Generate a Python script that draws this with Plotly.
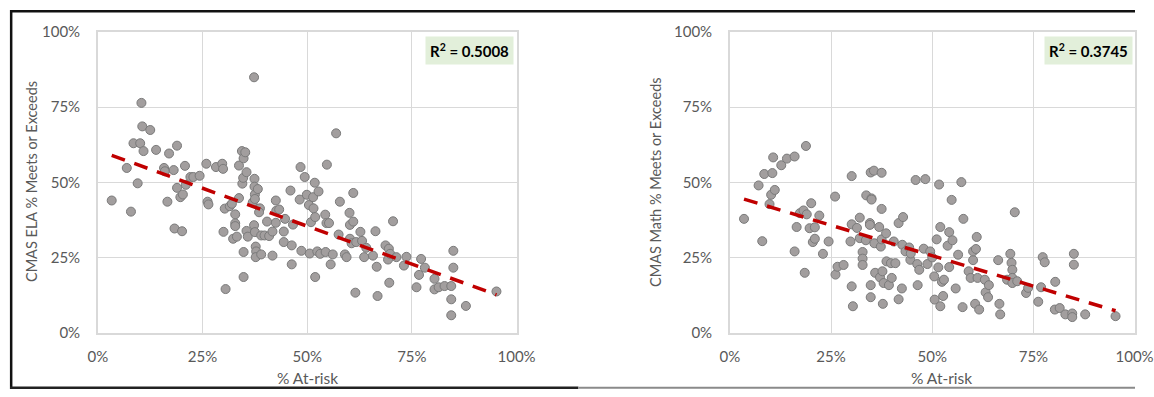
import numpy as np
import plotly.graph_objects as go

# School-level results: share of at-risk students vs. share meeting/exceeding
ela_x = [0.033, 0.069, 0.079, 0.085, 0.095, 0.101, 0.104, 0.106, 0.109, 0.125,
         0.139, 0.158, 0.160, 0.166, 0.170, 0.181, 0.183, 0.189, 0.189, 0.197,
         0.201, 0.203, 0.208, 0.210, 0.221, 0.228, 0.243, 0.259, 0.262, 0.264,
         0.282, 0.297, 0.299, 0.300, 0.303, 0.305, 0.315, 0.320, 0.323, 0.328,
         0.328, 0.328, 0.332, 0.337, 0.337, 0.344, 0.345, 0.347, 0.348, 0.348,
         0.348, 0.352, 0.355, 0.355, 0.358, 0.370, 0.373, 0.373, 0.374, 0.374,
         0.375, 0.375, 0.375, 0.377, 0.378, 0.377, 0.382, 0.387, 0.385, 0.390,
         0.390, 0.398, 0.404, 0.409, 0.417, 0.417, 0.425, 0.426, 0.425, 0.433,
         0.444, 0.444, 0.447, 0.460, 0.463, 0.463, 0.466, 0.482, 0.484, 0.486,
         0.494, 0.499, 0.504, 0.506, 0.509, 0.514, 0.515, 0.518, 0.519, 0.519,
         0.524, 0.527, 0.531, 0.543, 0.544, 0.547, 0.546, 0.552, 0.556, 0.561,
         0.569, 0.575, 0.578, 0.590, 0.594, 0.601, 0.602, 0.602, 0.606, 0.610,
         0.610, 0.615, 0.617, 0.627, 0.631, 0.636, 0.641, 0.657, 0.663, 0.666,
         0.668, 0.687, 0.693, 0.695, 0.696, 0.698, 0.705, 0.713, 0.731, 0.737,
         0.761, 0.767, 0.772, 0.781, 0.804, 0.804, 0.814, 0.828, 0.844, 0.844,
         0.844, 0.849, 0.849, 0.879, 0.952]
ela_y = [0.440, 0.548, 0.403, 0.630, 0.497, 0.630, 0.764, 0.686, 0.604, 0.674,
         0.608, 0.548, 0.537, 0.436, 0.596, 0.541, 0.347, 0.622, 0.482, 0.451,
         0.338, 0.460, 0.555, 0.492, 0.518, 0.518, 0.522, 0.562, 0.436, 0.427,
         0.551, 0.562, 0.545, 0.336, 0.413, 0.146, 0.421, 0.429, 0.313, 0.394,
         0.364, 0.355, 0.320, 0.556, 0.448, 0.604, 0.496, 0.515, 0.580, 0.269,
         0.186, 0.600, 0.534, 0.339, 0.320, 0.434, 0.849, 0.358, 0.512, 0.486,
         0.460, 0.445, 0.335, 0.287, 0.271, 0.252, 0.478, 0.414, 0.401, 0.324,
         0.261, 0.324, 0.370, 0.322, 0.337, 0.257, 0.440, 0.406, 0.366, 0.410,
         0.337, 0.302, 0.379, 0.473, 0.291, 0.228, 0.360, 0.443, 0.551, 0.273,
         0.518, 0.459, 0.425, 0.264, 0.368, 0.451, 0.414, 0.499, 0.385, 0.186,
         0.271, 0.470, 0.263, 0.393, 0.269, 0.559, 0.365, 0.365, 0.228, 0.261,
         0.663, 0.327, 0.436, 0.261, 0.252, 0.399, 0.359, 0.313, 0.298, 0.465,
         0.370, 0.134, 0.302, 0.336, 0.306, 0.252, 0.283, 0.257, 0.338, 0.220,
         0.123, 0.291, 0.244, 0.280, 0.167, 0.263, 0.371, 0.252, 0.224, 0.253,
         0.152, 0.193, 0.246, 0.217, 0.180, 0.145, 0.152, 0.156, 0.156, 0.112,
         0.059, 0.217, 0.273, 0.090, 0.138]

math_x = [0.035, 0.071, 0.080, 0.085, 0.098, 0.102, 0.105, 0.107, 0.111, 0.127,
          0.141, 0.160, 0.160, 0.165, 0.173, 0.182, 0.185, 0.188, 0.190, 0.197,
          0.201, 0.205, 0.210, 0.210, 0.221, 0.230, 0.244, 0.260, 0.261, 0.266,
          0.281, 0.298, 0.301, 0.301, 0.301, 0.304, 0.314, 0.321, 0.321, 0.328,
          0.328, 0.328, 0.336, 0.337, 0.346, 0.346, 0.348, 0.350, 0.350, 0.348,
          0.348, 0.356, 0.357, 0.359, 0.369, 0.371, 0.373, 0.375, 0.375, 0.375,
          0.377, 0.378, 0.380, 0.386, 0.387, 0.393, 0.398, 0.400, 0.405, 0.409,
          0.417, 0.417, 0.425, 0.428, 0.426, 0.434, 0.443, 0.446, 0.447, 0.459,
          0.463, 0.464, 0.468, 0.479, 0.483, 0.488, 0.495, 0.500, 0.505, 0.506,
          0.511, 0.515, 0.517, 0.520, 0.520, 0.524, 0.527, 0.529, 0.538, 0.542,
          0.542, 0.548, 0.550, 0.558, 0.564, 0.572, 0.575, 0.577, 0.590, 0.595,
          0.601, 0.601, 0.606, 0.608, 0.610, 0.612, 0.616, 0.630, 0.632, 0.638,
          0.640, 0.663, 0.666, 0.668, 0.685, 0.693, 0.696, 0.698, 0.698, 0.698,
          0.704, 0.710, 0.732, 0.737, 0.762, 0.769, 0.773, 0.778, 0.803, 0.804,
          0.815, 0.829, 0.846, 0.846, 0.850, 0.850, 0.878, 0.953]
math_y = [0.379, 0.490, 0.305, 0.528, 0.428, 0.459, 0.531, 0.583, 0.475, 0.557,
          0.579, 0.586, 0.271, 0.352, 0.398, 0.407, 0.200, 0.621, 0.394, 0.348,
          0.431, 0.302, 0.313, 0.351, 0.390, 0.263, 0.304, 0.453, 0.194, 0.220,
          0.226, 0.304, 0.521, 0.155, 0.361, 0.089, 0.349, 0.383, 0.315, 0.269,
          0.247, 0.226, 0.308, 0.457, 0.365, 0.359, 0.533, 0.447, 0.443, 0.159,
          0.119, 0.539, 0.298, 0.200, 0.352, 0.185, 0.287, 0.532, 0.412, 0.311,
          0.205, 0.097, 0.166, 0.331, 0.238, 0.159, 0.232, 0.183, 0.304, 0.232,
          0.365, 0.112, 0.148, 0.385, 0.293, 0.271, 0.284, 0.243, 0.264, 0.508,
          0.229, 0.159, 0.210, 0.280, 0.511, 0.229, 0.271, 0.251, 0.188, 0.111,
          0.311, 0.218, 0.493, 0.352, 0.089, 0.170, 0.123, 0.177, 0.290, 0.335,
          0.219, 0.442, 0.308, 0.148, 0.260, 0.501, 0.086, 0.379, 0.205, 0.183,
          0.242, 0.271, 0.097, 0.279, 0.319, 0.183, 0.078, 0.177, 0.135, 0.119,
          0.159, 0.242, 0.097, 0.062, 0.177, 0.263, 0.233, 0.210, 0.183, 0.166,
          0.401, 0.172, 0.133, 0.150, 0.104, 0.152, 0.252, 0.235, 0.078, 0.170,
          0.083, 0.062, 0.065, 0.053, 0.263, 0.227, 0.062, 0.056]

ela_r2_label = "0.5008"
math_r2_label = "0.3745"

W, H = 1154, 397
FONT = "Lato, 'Open Sans', sans-serif"
TICK_GRAY = "#595959"
GRID = "#d9d9d9"

# Layout is written in screen pixels; the page shows the figure inset by the
# body margin and scaled slightly, so convert screen pixels to figure pixels.
BODY_MARGIN = 8
SX, SY = 0.978, 0.957


def fx(p):
    return (p / SX - BODY_MARGIN) / W


def fy(p):
    return 1 - (p / SY - BODY_MARGIN) / H


# screen-pixel geometry of the two plot areas
left_px = (96, 516)
right_px = (730, 1136)
top_px, bottom_px = 29.5, 331.5

panels = [
    dict(xa="x", ya="y", xs=ela_x, ys=ela_y, r2=ela_r2_label,
         ytitle="CMAS ELA % Meets or Exceeds", span=left_px,
         r2_right=513, ytitle_x=30, xtitle_x=306),
    dict(xa="x2", ya="y2", xs=math_x, ys=math_y, r2=math_r2_label,
         ytitle="CMAS Math % Meets or Exceeds", span=right_px,
         r2_right=1134, ytitle_x=656, xtitle_x=942),
]

fig = go.Figure()

for p in panels:
    xs_arr = np.array(p["xs"])
    ys_arr = np.array(p["ys"])
    fig.add_trace(go.Scatter(
        x=p["xs"], y=p["ys"], mode="markers", xaxis=p["xa"], yaxis=p["ya"],
        showlegend=False, hoverinfo="x+y",
        marker=dict(size=9, color="#a29e9e", line=dict(color="#7a7a7a", width=1)),
    ))
    # linear least-squares trendline over the observed x span
    slope, intercept = np.polyfit(xs_arr, ys_arr, 1)
    tx = np.array([xs_arr.min(), xs_arr.max()])
    fig.add_trace(go.Scatter(
        x=tx, y=intercept + slope * tx, mode="lines", xaxis=p["xa"], yaxis=p["ya"],
        showlegend=False, hoverinfo="skip",
        line=dict(color="#c00000", width=3.5, dash="14px,10px"),
    ))
    # R-squared badge in the upper right of the plot area
    fig.add_annotation(
        xref="paper", yref="paper", x=fx(p["r2_right"]), y=fy(34),
        xanchor="right", yanchor="top", showarrow=False,
        text=f"<b>R<sup>2</sup> = {p['r2']}</b>",
        font=dict(family=FONT, size=15, color="#000000"),
        bgcolor="#e2efda", borderpad=4,
    )
    # axis titles
    fig.add_annotation(
        xref="paper", yref="paper", x=fx(p["xtitle_x"]), y=fy(377),
        xanchor="center", yanchor="middle", showarrow=False,
        text="% At-risk", font=dict(family=FONT, size=15.5, color=TICK_GRAY),
    )
    fig.add_annotation(
        xref="paper", yref="paper", x=fx(p["ytitle_x"]), y=fy(180),
        xanchor="center", yanchor="middle", showarrow=False, textangle=-90,
        text=p["ytitle"], font=dict(family=FONT, size=14.5, color=TICK_GRAY),
    )

axis_common = dict(
    range=[0, 1], dtick=0.25, tick0=0, tickformat=".0%",
    showgrid=True, gridcolor=GRID, gridwidth=1,
    showline=True, linecolor=GRID, linewidth=1.5, mirror=True,
    zeroline=False, ticks="",
    tickfont=dict(family=FONT, size=15, color=TICK_GRAY),
    fixedrange=True,
)
y_domain = [fy(bottom_px), fy(top_px)]

fig.update_layout(
    width=W, height=H,
    margin=dict(l=0, r=0, t=0, b=0),
    paper_bgcolor="white", plot_bgcolor="white",
    xaxis=dict(axis_common, domain=[fx(left_px[0]), fx(left_px[1])], anchor="y",
               ticklabelstandoff=9),
    yaxis=dict(axis_common, domain=y_domain, anchor="x", ticklabelstandoff=13),
    xaxis2=dict(axis_common, domain=[fx(right_px[0]), min(1.0, fx(right_px[1]))],
                anchor="y2", ticklabelstandoff=9),
    yaxis2=dict(axis_common, domain=y_domain, anchor="x2", ticklabelstandoff=13),
    shapes=[
        # outer frame
        dict(type="line", xref="paper", yref="paper", x0=0, x1=1,
             y0=1 - 1.2 / H, y1=1 - 1.2 / H, line=dict(color="#111111", width=2.5)),
        dict(type="line", xref="paper", yref="paper", x0=1.2 / W, x1=1.2 / W,
             y0=1, y1=0, line=dict(color="#111111", width=2.5)),
        dict(type="line", xref="paper", yref="paper", x0=0, x1=fx(578),
             y0=1.2 / H, y1=1.2 / H, line=dict(color="#222222", width=2.5)),
        dict(type="line", xref="paper", yref="paper", x0=fx(578), x1=1,
             y0=1.2 / H, y1=1.2 / H, line=dict(color="#8a8a8a", width=2)),
    ],
)

fig.write_html("out.html")
